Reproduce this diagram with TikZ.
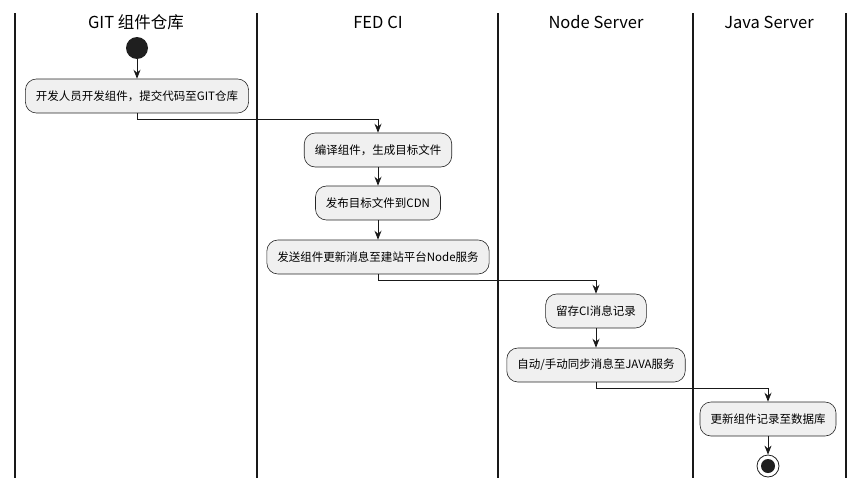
\documentclass[tikz,border=0pt]{standalone}
\usepackage{fontspec}
\setmainfont{Noto Sans CJK SC}
\usetikzlibrary{arrows.meta}

\tikzset{
  lane/.style={line width=1.3pt, draw=black!90},
  lanetitle/.style={font=\fontsize{16.5}{18}\selectfont, anchor=center},
  act/.style={draw=black!85, fill=black!6, rounded corners=11pt, line width=0.6pt,
    minimum height=34pt, inner xsep=10.5pt, font=\fontsize{11.5}{13}\selectfont},
  flow/.style={line width=0.8pt, draw=black!90, -{Stealth[length=9pt,width=7pt,inset=3pt]}}
}

\begin{document}
\begin{tikzpicture}[x=1pt, y=-1pt]

        \useasboundingbox (0,0) rectangle (862,490);

                % Lanes
                \foreach \lx in {15, 257, 498, 693, 846}
                    \draw[lane] (\lx, 13) -- (\lx, 478);
                \node[lanetitle] (t1) at (136, 22) {GIT 组件仓库};
                \node[lanetitle] (t2) at (378, 22) {FED CI};
                \node[lanetitle] (t3) at (596, 22) {Node Server};
                \node[lanetitle] (t4) at (769, 22) {Java Server};

                % Nodes
                \node[circle, fill=black!88, minimum size=22pt, inner sep=0pt] (start) at (137, 48) {};
                \node[act] (a1) at (137, 96) {开发人员开发组件，提交代码至GIT仓库};
                \node[act] (a2) at (378, 150) {编译组件，生成目标文件};
                \node[act] (a3) at (378, 203) {发布目标文件到CDN};
                \node[act] (a4) at (378, 257) {发送组件更新消息至建站平台Node服务};
                \node[act] (a5) at (596, 311) {留存CI消息记录};
                \node[act] (a6) at (596, 365) {自动/手动同步消息至JAVA服务};
                \node[act] (a7) at (768, 419) {更新组件记录至数据库};
                \node[circle, draw=black!88, line width=0.8pt, minimum size=22pt, inner sep=0pt] (stop) at (768, 466) {};
                \fill[black!88] (stop.center) circle (7pt);

                % Edges
                \draw[flow] (start) -- (a1);
                \draw[flow] (a1.south) -- ++(0, 6) -| (a2.north);
                \draw[flow] (a2) -- (a3);
                \draw[flow] (a3) -- (a4);
                \draw[flow] (a4.south) -- ++(0, 6) -| (a5.north);
                \draw[flow] (a5) -- (a6);
                \draw[flow] (a6.south) -- ++(0, 6) -| (a7.north);
                \draw[flow] (a7) -- (stop);

            \end{tikzpicture}
\end{document}
